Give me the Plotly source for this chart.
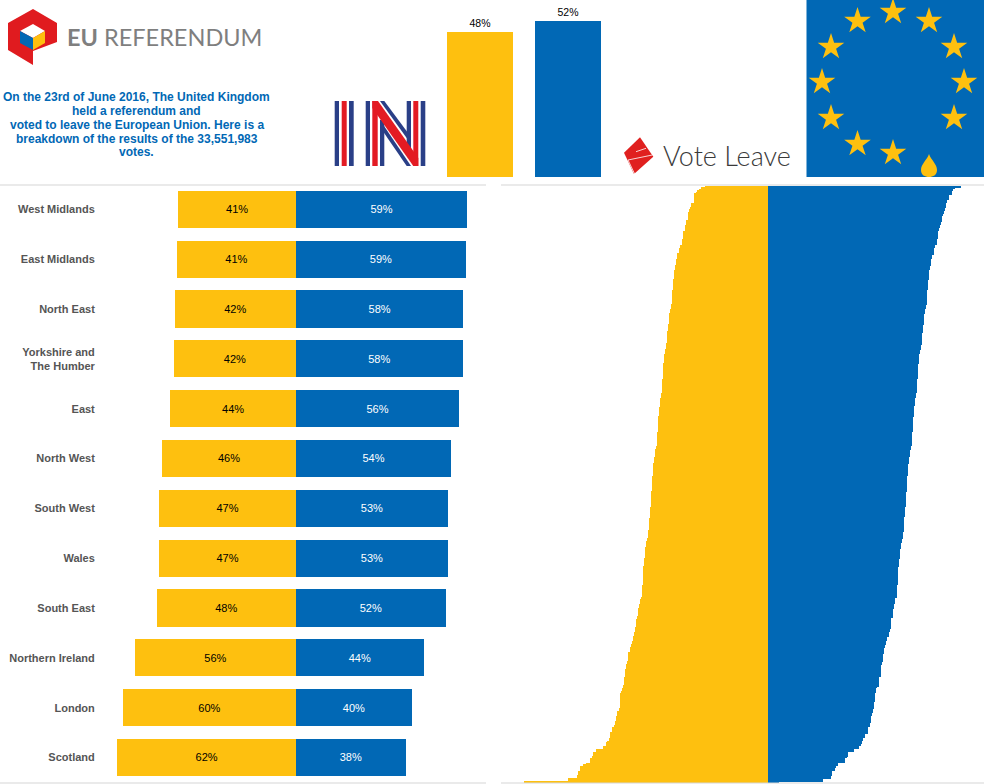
import plotly.graph_objects as go

YELLOW = "#FEC00F"
BLUE = "#0168B5"
GREY_RULE = "#D6D6D6"
NAVY = "#2A3F87"
RED = "#E31B23"
FONT = "Liberation Sans"

# UK total
total_labels = ["48%", "52%"]
total_names = ["Remain", "Leave"]
total_values = [48.1, 51.9]

# regions, top to bottom
regions = ["West Midlands", "East Midlands", "North East", "Yorkshire and<br>The Humber", "East",
           "North West", "South West", "Wales", "South East", "Northern Ireland", "London", "Scotland"]
region_remain = [40.7, 41.2, 42.0, 42.3, 43.5, 46.3, 47.4, 47.4, 48.2, 55.8, 59.9, 61.8]
region_leave = [59.3, 58.8, 58.0, 57.7, 56.5, 53.7, 52.6, 52.6, 51.8, 44.2, 40.1, 38.0]
remain_labels = ["41%", "41%", "42%", "42%", "44%", "46%", "47%", "47%", "48%", "56%", "60%", "62%"]
leave_labels = ["59%", "59%", "58%", "58%", "56%", "54%", "53%", "53%", "52%", "44%", "40%", "38%"]

# voting areas, ordered by leave share
area_remain = [
    24.5, 26.2, 27.0, 27.8, 28.2, 29.0, 29.0, 29.0, 29.0, 29.0, 29.0, 30.1, 30.1, 30.1, 30.5, 30.9, 30.9,
    31.3, 31.3, 31.3, 31.3, 31.3, 32.1, 32.1, 32.1, 32.5, 32.5, 32.5, 32.5, 33.3, 33.3, 33.3, 33.3, 33.3,
    33.7, 33.7, 33.7, 33.7, 34.4, 34.4, 34.8, 34.8, 34.8, 35.6, 35.6, 35.6, 35.6, 36.0, 36.0, 36.0, 36.0,
    36.4, 36.4, 36.4, 36.8, 36.8, 36.8, 36.8, 36.8, 36.8, 37.2, 37.2, 37.2, 37.2, 37.2, 37.2, 37.2,
    37.6, 37.6, 37.6, 37.6, 37.6, 37.6, 37.6, 37.6, 37.6, 38.0, 38.0, 38.0, 38.4, 38.4, 38.4,
    38.7, 38.7, 38.7, 38.7, 38.7, 38.7, 38.7, 39.1, 39.1, 39.1, 39.1, 39.5, 39.5, 39.5, 39.5, 39.5, 39.5, 39.5, 39.5,
    39.9, 39.9, 39.9, 39.9, 40.3, 40.3, 40.3, 40.7, 40.7, 40.7, 40.7, 40.7, 40.7,
    41.1, 41.1, 41.1, 41.1, 41.1, 41.1, 41.1, 41.1, 41.1, 41.1,
    41.5, 41.5, 41.5, 41.5, 41.5, 41.5, 41.5, 41.5, 41.5, 41.9, 41.9, 41.9,
    42.3, 42.3, 42.3, 42.3, 42.3, 42.3, 42.7, 42.7, 42.7, 42.7, 42.7, 42.7,
    43.1, 43.1, 43.1, 43.1, 43.1, 43.1, 43.1, 43.1, 43.1, 43.1,
    43.4, 43.4, 43.4, 43.4, 43.4, 43.4, 43.4, 43.4, 43.4, 43.8, 43.8,
    44.2, 44.2, 44.2, 44.2, 44.2, 44.6, 44.6, 44.6, 44.6,
    45.0, 45.0, 45.0, 45.0, 45.0, 45.0, 45.0, 45.0,
    45.4, 45.4, 45.4, 45.4, 45.4, 45.4, 45.4, 45.4, 45.4, 45.4,
    45.8, 45.8, 45.8, 45.8, 45.8, 45.8, 45.8, 45.8, 45.8, 45.8,
    46.2, 46.2, 46.2, 46.2, 46.2, 46.2, 46.2, 46.6, 46.6, 46.6, 46.6, 46.6, 46.6, 46.6, 46.6,
    47.0, 47.0, 47.0, 47.0, 47.0, 47.4, 47.4, 47.7, 47.7, 47.7, 47.7,
    48.1, 48.1, 48.1, 48.1, 48.1, 48.1, 48.1, 48.5, 48.5, 48.5, 48.5, 48.5,
    48.9, 48.9, 48.9, 48.9, 48.9, 48.9, 48.9, 48.9, 48.9, 48.9, 48.9, 48.9,
    49.3, 49.3, 49.3, 49.3, 49.3, 49.3, 49.3, 49.3, 49.7, 50.1, 50.1, 50.1, 50.5, 50.5, 50.5,
    50.9, 50.9, 50.9, 50.9, 50.9, 51.3, 51.3, 51.7, 51.7, 51.7, 51.7, 51.7,
    52.1, 52.1, 52.1, 52.4, 52.4, 52.4, 52.8, 52.8, 52.8, 53.2, 53.2, 53.6, 53.6, 54.0, 54.0, 54.0,
    54.8, 54.8, 54.8, 54.8, 54.8, 54.8, 55.2, 55.2, 55.6, 55.6, 55.6, 56.0, 56.0, 56.0, 56.0, 56.0,
    56.4, 56.4, 56.4, 56.4, 56.4, 56.8, 56.8, 57.1, 57.1, 57.5,
    57.9, 57.9, 57.9, 57.9, 57.9, 57.9, 57.9, 57.9, 57.9, 57.9, 58.3, 58.3,
    59.1, 59.1, 59.1, 59.5, 59.5, 59.5, 59.9, 59.9, 59.9, 60.3, 61.1, 61.1, 61.1, 61.8, 61.8, 61.8, 61.8,
    62.2, 62.2, 62.9, 63.5, 63.5, 64.7, 64.7, 67.3, 67.3, 68.5, 68.5, 68.5, 68.9, 69.7, 69.7, 69.7,
    71.2, 72.4, 73.6, 73.6, 73.6, 74.4, 74.4, 74.4, 74.8, 74.8, 78.3, 78.3, 95.5,
]
area_leave = [
    75.5, 73.3, 72.5, 71.8, 71.8, 71.8, 70.8, 70.8, 70.8, 70.1, 70.1, 69.7, 69.7, 69.7, 69.3, 69.3,
    68.9, 68.9, 68.5, 68.1, 68.1, 68.1, 68.1, 67.7, 67.7, 67.3, 67.3, 66.9, 66.9,
    66.5, 66.5, 66.5, 66.5, 66.5, 66.1, 66.1, 66.1, 66.1, 65.4, 65.4, 65.0, 65.0, 65.0, 65.0,
    64.2, 64.2, 64.2, 63.8, 63.8, 63.8, 63.8, 63.4, 63.4, 63.4, 63.0, 63.0, 63.0, 63.0, 63.0, 63.0,
    62.6, 62.6, 62.6, 62.6, 62.6, 62.6, 62.6, 62.2, 62.2, 62.2, 62.2, 62.2, 62.2, 62.2, 62.2, 62.2,
    61.8, 61.8, 61.8, 61.4, 61.4, 61.4, 61.1, 61.1, 61.1, 61.1, 61.1, 61.1, 61.1,
    60.7, 60.7, 60.7, 60.7, 60.7, 60.3, 60.3, 60.3, 60.3, 60.3, 60.3, 60.3, 60.3,
    59.9, 59.9, 59.9, 59.5, 59.5, 59.5, 59.1, 59.1, 59.1, 59.1, 59.1, 59.1,
    58.7, 58.7, 58.7, 58.7, 58.7, 58.7, 58.7, 58.7, 58.7, 58.7,
    58.3, 58.3, 58.3, 58.3, 58.3, 58.3, 58.3, 58.3, 58.3, 57.9, 57.9, 57.9, 57.5, 57.5, 57.5, 57.5, 57.5,
    57.1, 57.1, 57.1, 57.1, 57.1, 57.1, 57.1, 56.8, 56.8, 56.8, 56.8, 56.8, 56.8, 56.8, 56.8, 56.8, 56.8,
    56.4, 56.4, 56.4, 56.4, 56.4, 56.4, 56.4, 56.4, 56.4, 56.0, 56.0, 55.6, 55.6, 55.6, 55.6, 55.6,
    55.2, 55.2, 55.2, 55.2, 54.8, 54.8, 54.8, 54.8, 54.8, 54.8, 54.8, 54.8,
    54.4, 54.4, 54.4, 54.4, 54.4, 54.4, 54.4, 54.4, 54.4, 54.4,
    54.0, 54.0, 54.0, 54.0, 54.0, 54.0, 54.0, 54.0, 54.0, 54.0, 53.6, 53.6, 53.6, 53.6, 53.6, 53.6,
    53.2, 53.2, 53.2, 53.2, 53.2, 53.2, 53.2, 53.2, 53.2, 53.2, 52.8, 52.8, 52.8, 52.8, 52.4, 52.4, 52.4,
    52.1, 52.1, 52.1, 52.1, 51.7, 51.7, 51.7, 51.7, 51.7, 51.7, 51.3, 51.3, 51.3, 51.3, 51.3,
    50.9, 50.9, 50.9, 50.9, 50.9, 50.9, 50.9, 50.9, 50.9, 50.9, 50.9, 50.9,
    50.5, 50.5, 50.5, 50.5, 50.5, 50.5, 50.5, 50.5, 49.7, 49.7, 49.7, 49.7, 49.3, 49.3, 49.3,
    48.9, 48.9, 48.9, 48.9, 48.9, 48.9, 48.1, 48.1, 48.1, 48.1, 48.1, 48.1, 48.1, 47.7, 47.7, 47.4, 47.4, 47.4,
    46.6, 46.6, 46.6, 46.2, 46.2, 45.8, 45.8, 45.4, 45.4, 45.4, 45.4, 45.0, 45.0, 45.0, 45.0, 45.0,
    44.6, 44.6, 44.2, 44.2, 44.2, 44.0, 44.0, 44.0, 44.0, 44.0, 43.6, 43.6, 43.6, 43.6, 43.6, 43.6,
    42.8, 42.4, 42.4, 42.4, 41.9, 41.9, 41.9, 41.9, 41.9, 41.9, 41.5, 41.5, 41.5, 41.5, 41.1, 41.1, 41.1,
    40.6, 40.6, 40.3, 40.3, 40.3, 40.3, 39.7, 39.7, 39.7, 39.0, 39.0, 39.0, 39.0, 38.1, 38.1, 38.1,
    37.3, 37.3, 36.9, 36.9, 36.3, 35.4, 35.4, 33.8, 33.8, 31.4, 31.4, 31.4, 30.9, 30.1, 30.1, 30.1,
    27.5, 27.5, 26.4, 26.0, 26.0, 25.2, 25.2, 25.2, 24.8, 24.8, 21.5, 21.5, 4.3,
]

intro_lines = ["On the 23rd of June 2016, The United Kingdom", "held a referendum and",
               "voted to leave the European Union. Here is a", "breakdown of the results of the 33,551,983", "votes."]

# EU flag stars, in page pixels
star_x = [893, 857.5, 929, 831, 954, 822, 964, 831, 954, 857.5, 893]
star_y = [12, 21, 21, 47, 47, 82, 82, 118, 118, 144, 153]


def dom_y(top, bottom):
    # pixel rows to paper fractions
    return [1 - bottom / 784, 1 - top / 784]


def dom_x(left, right):
    return [left / 984, right / 984]


def poly(points, color):
    path = "M" + " L".join(f"{x},{y}" for x, y in points) + " Z"
    return dict(type="path", path=path, fillcolor=color, line_width=0, xref="x4", yref="y4")


def box(x0, y0, x1, y1, color, layer="above"):
    return dict(type="rect", x0=x0, y0=y0, x1=x1, y1=y1, fillcolor=color, line_width=0,
                xref="x4", yref="y4", layer=layer)


def rule(x0, y0, x1, y1, color=GREY_RULE, width=1.2):
    return dict(type="line", x0=x0, y0=y0, x1=x1, y1=y1, line=dict(color=color, width=width),
                xref="x4", yref="y4")


fig = go.Figure()

# region bars
fig.add_trace(go.Bar(y=regions, x=[-v for v in region_remain], orientation="h", marker_color=YELLOW,
                     marker_line_width=0, text=remain_labels, textposition="inside", insidetextanchor="middle",
                     textangle=0, textfont=dict(family=FONT, size=11, color="black"), xaxis="x", yaxis="y"))
fig.add_trace(go.Bar(y=regions, x=region_leave, orientation="h", marker_color=BLUE,
                     marker_line_width=0, text=leave_labels, textposition="inside", insidetextanchor="middle",
                     textangle=0, textfont=dict(family=FONT, size=11, color="white"), xaxis="x", yaxis="y"))

# overall result
fig.add_trace(go.Bar(x=total_names, y=total_values, marker_color=[YELLOW, BLUE], marker_line_width=0,
                     text=total_labels, textposition="outside", cliponaxis=False,
                     textfont=dict(family=FONT, size=10.5, color="black"), xaxis="x2", yaxis="y2"))

# every voting area
rows = list(range(len(area_leave)))
fig.add_trace(go.Bar(y=rows, x=[-v for v in area_remain], orientation="h", marker_color=YELLOW,
                     marker_line_width=0, width=1, xaxis="x3", yaxis="y3"))
fig.add_trace(go.Bar(y=rows, x=area_leave, orientation="h", marker_color=BLUE,
                     marker_line_width=0, width=1, xaxis="x3", yaxis="y3"))

# stars on the flag
fig.add_trace(go.Scatter(x=star_x, y=star_y, mode="markers", xaxis="x4", yaxis="y4",
                         marker=dict(symbol="star", size=20, color=YELLOW, line_width=0)))

shapes = [
    rule(0, 185, 486, 185), rule(501, 185, 984, 185),
    rule(0, 783, 486, 783), rule(501, 783, 984, 783),
    # flag and drop
    box(806.5, 0, 984, 177, BLUE, layer="below"),
    dict(type="path", path="M929,154 C931,160 937,164 937,170 C937,175 933,177 929,177 C925,177 921,175 921,170 "
                           "C921,164 927,160 929,154 Z",
         fillcolor=YELLOW, line_width=0, xref="x4", yref="y4"),
    # referendum logo
    poly([(8, 23), (33, 9), (57, 23), (57, 42), (33, 51), (33, 65), (8, 50)], "#E01B1F"),
    poly([(20, 31), (33, 24), (45, 31), (33, 38)], "white"),
    poly([(20, 31), (33, 38), (33, 50), (20, 43)], BLUE),
    poly([(33, 38), (45, 31), (45, 43), (33, 50)], YELLOW),
    # IN logo
    box(334.7, 101, 339, 166, NAVY), box(341.7, 101, 346.7, 166, RED), box(349, 101, 353.7, 166, NAVY),
    box(365.7, 101, 370, 166, NAVY), box(372.3, 101, 377.7, 166, RED), box(380, 120, 384.3, 166, NAVY),
    box(406.7, 101, 411, 150, NAVY), box(413.3, 101, 418.3, 166, RED), box(420.7, 101, 425.3, 166, NAVY),
    poly([(372.3, 101), (378, 101), (418.3, 158), (418.3, 166), (413.3, 166), (372.3, 108)], RED),
    poly([(380, 101), (384.3, 101), (411, 137), (411, 144)], NAVY),
    poly([(380, 120), (380, 127), (406.7, 166), (411, 166)], NAVY),
    # vote leave parcel
    poly([(640, 137.3), (653.3, 156.7), (634, 174), (624, 152.7)], "#E0201F"),
    rule(628, 160, 652.3, 155, color="white", width=0.8),
    rule(636, 151.7, 646, 148.3, color="white", width=0.8),
    rule(628, 160, 634.7, 174, color="white", width=0.8),
]

annotations = [
    dict(x=64.5, y=36.5, text="<b>EU</b> REFERENDUM", xref="x4", yref="y4", xanchor="left", yanchor="middle",
         showarrow=False, font=dict(family="Lato", size=23.5, color="#7F7F7F")),
    dict(x=661, y=155, text="Vote Leave", xref="x4", yref="y4", xanchor="left", yanchor="middle",
         showarrow=False, font=dict(family="Lato", size=27, color="#3A3A3A", weight=300)),
]
line_y = [96.5, 110.5, 124.5, 138.5, 152]
for line, ypos in zip(intro_lines, line_y):
    annotations.append(dict(x=136.5, y=ypos, text=line, xref="x4", yref="y4", xanchor="center", yanchor="middle",
                            showarrow=False, font=dict(family=FONT, size=12, color=BLUE, weight="bold")))

fig.update_layout(
    width=984, height=784, autosize=False,
    margin=dict(l=0, r=0, t=0, b=0),
    paper_bgcolor="white", plot_bgcolor="rgba(0,0,0,0)",
    showlegend=False, barmode="relative", bargap=0.257,
    shapes=shapes, annotations=annotations,
    xaxis=dict(domain=dom_x(99, 486), range=[-68.2, 65.8], visible=False, fixedrange=True),
    yaxis=dict(domain=dom_y(184.4, 782.4), type="category", autorange="reversed", anchor="x", showgrid=False,
               showline=False, zeroline=False, ticks="outside", ticklen=1, tickcolor="white",
               tickfont=dict(family=FONT, size=11, color="#555555", weight="bold")),
    xaxis2=dict(domain=dom_x(436, 612), visible=False, anchor="y2", type="category"),
    yaxis2=dict(domain=dom_y(5, 177), range=[0, 57.1], visible=False, anchor="x2"),
    xaxis3=dict(domain=dom_x(501, 984), range=[-104.5, 84.5], visible=False, anchor="y3"),
    yaxis3=dict(domain=dom_y(185.5, 783), range=[len(rows) - 0.5, -0.5], visible=False, anchor="x3"),
    xaxis4=dict(domain=[0, 1], range=[0, 984], visible=False, anchor="y4"),
    yaxis4=dict(domain=[0, 1], range=[784, 0], visible=False, anchor="x4"),
)

# page flush with the window edge, and no antialiased seams between the thin rows
after_plot = ("document.body.style.margin='0';"
              "document.querySelectorAll('.bars path').forEach(function(p){p.style.shapeRendering='crispEdges';});")
fig.write_html("out.html", config={"displayModeBar": False}, post_script=after_plot)
